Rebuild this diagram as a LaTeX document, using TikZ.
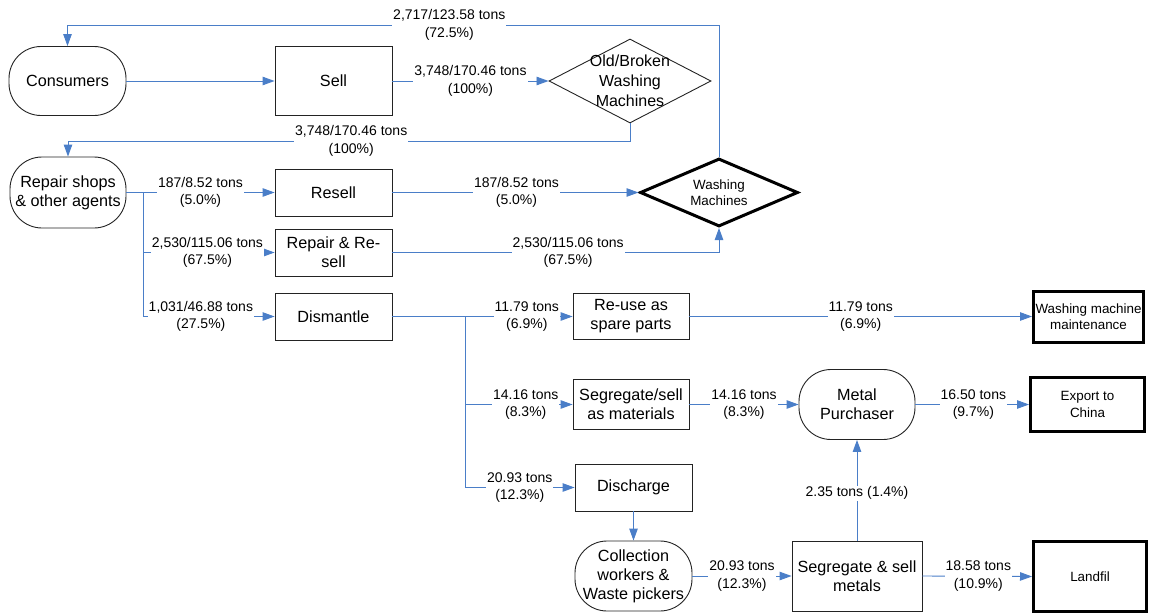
\documentclass[tikz,border=0pt]{standalone}
\usepackage{fontspec}
\setmainfont{Liberation Sans}
\usetikzlibrary{arrows.meta,shapes.geometric}
\definecolor{flowblue}{RGB}{74,126,200}
\definecolor{edgegray}{RGB}{35,35,35}

\begin{document}
\begin{tikzpicture}[x=1pt,y=-1pt,
  base/.style={draw=edgegray, line width=0.9pt, align=center, inner sep=0pt,
    font=\fontsize{16.2}{19}\selectfont},
  box/.style={base, rectangle, minimum width=117pt, minimum height=47pt},
  pill/.style={base, rectangle, rounded corners=32pt, minimum width=117pt, minimum height=70pt},
  endbox/.style={base, rectangle, draw=black, line width=3pt,
    font=\fontsize{13.4}{16.5}\selectfont},
  diam/.style={base, diamond, minimum width=162pt, minimum height=84pt},
  flow/.style={draw=flowblue, line width=0.9pt},
  arr/.style={flow, -{Triangle[length=12pt,width=8.5pt]}},
  lbl/.style={fill=white, inner sep=1pt, align=center,
    font=\fontsize{14}{17.5}\selectfont}
]
\useasboundingbox (0,0) rectangle (1149,613);

% ---- nodes ----
\node[pill, minimum height=69pt] (cons) at (67.5,81) {Consumers};
\node[box, minimum height=69pt] (sell) at (333.5,81) {Sell};
\node[diam, label={[font=\fontsize{16}{20}\selectfont, align=center]center:Old/Broken\\Washing\\Machines}]
  (old) at (630,81) {};

\node[pill, minimum width=116pt, minimum height=71pt] (repair) at (68,192.5) {Repair shops\\\& other agents};
\node[box] (resell) at (333.5,192.5) {Resell};
\node[box] (reprs) at (333.5,252.5) {Repair \& Re-\\sell};
\node[box] (dism) at (333.5,316.5) {Dismantle};

\node[diam, draw=black, line width=3pt, minimum width=158pt, minimum height=68pt,
  label={[font=\fontsize{13.4}{16.5}\selectfont, align=center]center:Washing\\Machines}]
  (wm) at (719,192.5) {};

\node[box, minimum width=116pt, minimum height=46pt] (reuse) at (631,316.5) {Re-use as\\spare parts};
\node[endbox, minimum width=110pt, minimum height=51pt] (wmm) at (1088.5,316.5) {Washing machine\\maintenance};

\node[box, minimum width=116pt, minimum height=50pt] (segm) at (631,404.5) {Segregate/sell\\as materials};
\node[pill, minimum width=116pt, minimum height=70pt] (metal) at (857,404.5) {Metal\\Purchaser};
\node[endbox, minimum width=114pt, minimum height=54pt] (exp) at (1087.5,404.5) {Export to\\China};

\node[box] (disc) at (633.5,487.5) {Discharge};
\node[pill, minimum height=70pt] (coll) at (633.5,576) {Collection\\workers \&\\Waste pickers};
\node[box, minimum width=130pt, minimum height=70pt] (segs) at (857,576) {Segregate \& sell\\metals};
\node[endbox, minimum width=113pt, minimum height=70pt] (land) at (1090,576.5) {Landfil};

% ---- routing coordinates ----
\coordinate (topline) at (0,25);
\coordinate (retline) at (0,141);
\coordinate (ja) at (143,0);
\coordinate (jb) at (465,0);

% ---- connectors ----
\draw[arr] (cons) -- (sell);
\draw[arr] (sell) -- node[lbl]{3,748/170.46 tons\\(100\%)} (old);

\draw[arr] (wm.north) -- (wm.north |- topline)
  -- node[lbl, pos=0.414]{2,717/123.58 tons\\(72.5\%)} (cons.north |- topline) -- (cons.north);

\draw[arr] (old.south) -- (old.south |- retline)
  -- node[lbl, pos=0.496]{3,748/170.46 tons\\(100\%)} (repair.north |- retline) -- (repair.north);

\draw[arr] (repair.east) -- node[lbl, pos=0.5]{187/8.52 tons\\(5.0\%)} (resell.west);
\draw[flow] (ja |- resell.west) -- (ja |- dism.west);
\draw[arr] (ja |- reprs.west) -- node[lbl, pos=0.49]{2,530/115.06 tons\\(67.5\%)} (reprs.west);
\draw[arr] (ja |- dism.west) -- node[lbl, pos=0.44]{1,031/46.88 tons\\(27.5\%)} (dism.west);

\draw[arr] (resell.east) -- node[lbl, pos=0.504]{187/8.52 tons\\(5.0\%)} (wm.west);
\draw[arr] (reprs.east) -- node[lbl, pos=0.538]{2,530/115.06 tons\\(67.5\%)} (wm.south |- reprs.east) -- (wm.south);

\draw[arr] (dism.east) -- node[lbl, pos=0.746]{11.79 tons\\(6.9\%)} (reuse.west);
\draw[flow] (jb |- dism.east) -- (jb |- disc.west);
\draw[arr] (jb |- segm.west) -- node[lbl, pos=0.565]{14.16 tons\\(8.3\%)} (segm.west);
\draw[arr] (jb |- disc.west) -- node[lbl, pos=0.5]{20.93 tons\\(12.3\%)} (disc.west);

\draw[arr] (reuse.east) -- node[lbl, pos=0.5]{11.79 tons\\(6.9\%)} (wmm.west);
\draw[arr] (segm.east) -- node[lbl, pos=0.5]{14.16 tons\\(8.3\%)} (metal.west);
\draw[arr] (metal.east) -- node[lbl, pos=0.51]{16.50 tons\\(9.7\%)} (exp.west);

\draw[arr] (disc.south) -- (coll.north);
\draw[arr] (coll.east) -- node[lbl, pos=0.5]{20.93 tons\\(12.3\%)} (segs.west);
\draw[arr] (segs.north) -- node[lbl, pos=0.47]{2.35 tons (1.4\%)} (metal.south);
\draw[arr] (segs.east) -- node[lbl, pos=0.51]{18.58 tons\\(10.9\%)} (land.west);
\end{tikzpicture}
\end{document}
